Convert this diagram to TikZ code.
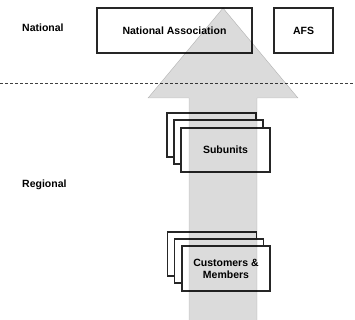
\documentclass[tikz,border=0pt]{standalone}
\usepackage{fontspec}
\setmainfont{Liberation Sans}
\begin{document}
\begin{tikzpicture}[x=1pt,y=-1pt,
  box/.style={draw=black!85,line width=1.4pt,fill=white,minimum width=#1,inner sep=0pt,font=\bfseries\fontsize{10.5}{12}\selectfont,align=center},
  box/.default=155pt,
  lbl/.style={font=\bfseries\fontsize{10.5}{12}\selectfont,anchor=west,inner sep=0pt},
  bigarrow/.style={fill=black!14,draw=black!22,line width=0.4pt,blend mode=multiply}]
\useasboundingbox (0,0) rectangle (355,320);
\node[lbl] (lnat) at (22,28) {National};
\node[lbl] (lreg) at (22,185) {Regional};
\node[box=155pt,minimum height=45pt] (nat) at (174.5,30.5) {National Association};
\node[box=59pt,minimum height=45pt] (afs) at (303.5,30.5) {AFS};
\draw[black!75,dashed,dash pattern=on 3pt off 2pt,line width=0.7pt] (0,83) coordinate (dl) -- (355,83) coordinate (dr);
% Subunits stack
\node[box=89pt,minimum height=44pt] (sub1) at (211.5,135) {};
\node[box=89pt,minimum height=44pt] (sub2) at (218.5,142) {};
\node[box=89pt,minimum height=44pt] (sub3) at (225.5,150) {Subunits};
% Customers stack
\node[box=89pt,minimum height=44pt] (cust1) at (212,254) {};
\node[box=89pt,minimum height=44pt] (cust2) at (219,261) {};
\node[box=88pt,minimum height=45pt] (cust3) at (226,268.5) {Customers \&\\Members};
% Arrow
\path[bigarrow] (189,321) -- (189,98) -- (148,98) -- (223,8) coordinate (tip) -- (298,98) -- (257,98) -- (257,321) -- cycle;
\end{tikzpicture}
\end{document}
